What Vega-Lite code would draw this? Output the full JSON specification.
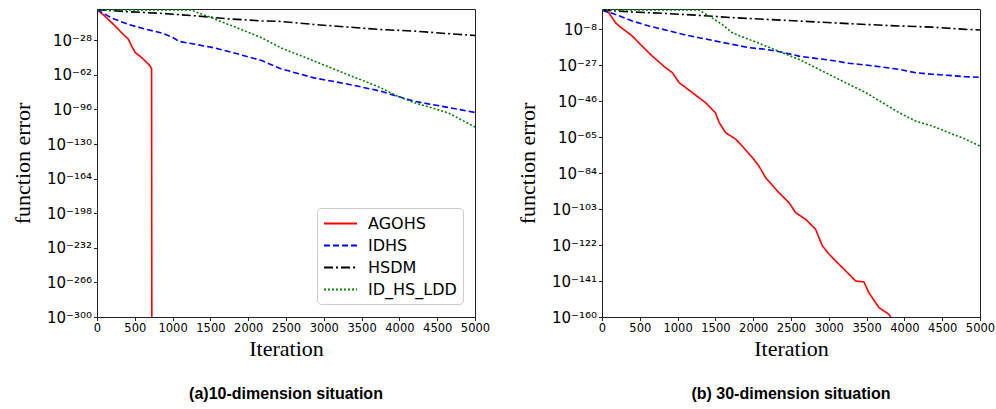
{
  "$schema": "https://vega.github.io/schema/vega-lite/v6.json",
  "background": "white",
  "padding": {"left": 10, "top": 8, "right": 10, "bottom": 5},
  "config": {
    "view": {"stroke": "#222", "strokeWidth": 1},
    "axis": {
      "labelFont": "DejaVu Sans", "labelColor": "#000", "domainColor": "#222", "domainWidth": 1,
      "tickColor": "#222", "tickSize": 3.5, "grid": false, "labelPadding": 2,
      "titleFont": "Liberation Serif", "titleFontWeight": "normal", "titleColor": "#000", "titleFontSize": 22
    },
    "title": {"font": "Liberation Sans", "fontWeight": "bold", "fontSize": 16, "color": "#000"}
  },
  "spacing": 24,
  "resolve": {
    "scale": {"y": "independent", "color": "independent", "strokeDash": "independent"},
    "legend": {"color": "independent", "strokeDash": "independent"}
  },
  "hconcat": [
    {
      "width": 378, "height": 308,
      "title": {"text": "(a)10-dimension situation", "orient": "bottom", "offset": 27},
      "data": {"values": [
        {"m": "AGOHS", "it": 0, "v": 1e2},
        {"m": "AGOHS", "it": 100, "v": 1e-4},
        {"m": "AGOHS", "it": 240, "v": 1e-14},
        {"m": "AGOHS", "it": 330, "v": 1e-21},
        {"m": "AGOHS", "it": 415, "v": 1e-27},
        {"m": "AGOHS", "it": 460, "v": 1e-34},
        {"m": "AGOHS", "it": 505, "v": 1e-40},
        {"m": "AGOHS", "it": 590, "v": 1e-45},
        {"m": "AGOHS", "it": 660, "v": 1e-50},
        {"m": "AGOHS", "it": 700, "v": 1e-53},
        {"m": "AGOHS", "it": 722, "v": 1e-56},
        {"m": "AGOHS", "it": 725, "v": 1e-300},
        {"m": "IDHS", "it": 0, "v": 1e2},
        {"m": "IDHS", "it": 190, "v": 1e-6},
        {"m": "IDHS", "it": 415, "v": 3e-13},
        {"m": "IDHS", "it": 640, "v": 1e-17},
        {"m": "IDHS", "it": 860, "v": 1e-21},
        {"m": "IDHS", "it": 1010, "v": 2.5e-26},
        {"m": "IDHS", "it": 1080, "v": 1e-29},
        {"m": "IDHS", "it": 1300, "v": 1e-32},
        {"m": "IDHS", "it": 1520, "v": 1e-35},
        {"m": "IDHS", "it": 1740, "v": 1e-39},
        {"m": "IDHS", "it": 1960, "v": 3e-44},
        {"m": "IDHS", "it": 2180, "v": 1e-48},
        {"m": "IDHS", "it": 2430, "v": 1e-56},
        {"m": "IDHS", "it": 2870, "v": 1e-65},
        {"m": "IDHS", "it": 3310, "v": 1e-71},
        {"m": "IDHS", "it": 3750, "v": 1e-78},
        {"m": "IDHS", "it": 3970, "v": 1e-83},
        {"m": "IDHS", "it": 4200, "v": 1e-88},
        {"m": "IDHS", "it": 4640, "v": 1e-94},
        {"m": "IDHS", "it": 5000, "v": 1e-99},
        {"m": "HSDM", "it": 0, "v": 1e2},
        {"m": "HSDM", "it": 415, "v": 1e0},
        {"m": "HSDM", "it": 860, "v": 2.5e-2},
        {"m": "HSDM", "it": 1300, "v": 1e-4},
        {"m": "HSDM", "it": 1740, "v": 1e-7},
        {"m": "HSDM", "it": 2180, "v": 1e-9},
        {"m": "HSDM", "it": 2430, "v": 3e-10},
        {"m": "HSDM", "it": 2870, "v": 3e-13},
        {"m": "HSDM", "it": 3310, "v": 1e-15},
        {"m": "HSDM", "it": 3750, "v": 3e-18},
        {"m": "HSDM", "it": 4200, "v": 1e-19},
        {"m": "HSDM", "it": 4640, "v": 3e-22},
        {"m": "HSDM", "it": 5000, "v": 5e-24},
        {"m": "ID_HS_LDD", "it": 0, "v": 5e1},
        {"m": "ID_HS_LDD", "it": 1250, "v": 5e1},
        {"m": "ID_HS_LDD", "it": 1300, "v": 1e0},
        {"m": "ID_HS_LDD", "it": 1520, "v": 1e-6},
        {"m": "ID_HS_LDD", "it": 1740, "v": 3e-13},
        {"m": "ID_HS_LDD", "it": 1960, "v": 1e-19},
        {"m": "ID_HS_LDD", "it": 2180, "v": 2.5e-26},
        {"m": "ID_HS_LDD", "it": 2430, "v": 4e-36},
        {"m": "ID_HS_LDD", "it": 2870, "v": 4e-49},
        {"m": "ID_HS_LDD", "it": 3310, "v": 3e-62},
        {"m": "ID_HS_LDD", "it": 3750, "v": 2.5e-75},
        {"m": "ID_HS_LDD", "it": 3970, "v": 1.6e-83},
        {"m": "ID_HS_LDD", "it": 4200, "v": 4e-90},
        {"m": "ID_HS_LDD", "it": 4640, "v": 6e-100},
        {"m": "ID_HS_LDD", "it": 5000, "v": 5e-114}
      ]},
      "mark": {"type": "line", "strokeWidth": 1.6, "clip": true},
      "encoding": {
        "x": {"field": "it", "type": "quantitative", "scale": {"domain": [0, 5000], "nice": false, "zero": false},
          "axis": {"values": [0, 500, 1000, 1500, 2000, 2500, 3000, 3500, 4000, 4500, 5000], "format": "d", "title": "Iteration", "labelFontSize": 11.5, "labelFlush": false, "titlePadding": 4}},
        "y": {"field": "v", "type": "quantitative", "scale": {"type": "log", "domain": [1e-300, 500], "nice": false},
          "axis": {"values": [1e-28, 1e-62, 1e-96, 1e-130, 1e-164, 1e-198, 1e-232, 1e-266, 1e-300],
            "labelExpr": "'10' + replace(replace(replace(replace(replace(replace(replace(replace(replace(replace(replace(toString(round(log(datum.value)/LN10)), '-', '⁻'), regexp('0','g'), '⁰'), regexp('1','g'), '¹'), regexp('2','g'), '²'), regexp('3','g'), '³'), regexp('4','g'), '⁴'), regexp('5','g'), '⁵'), regexp('6','g'), '⁶'), regexp('7','g'), '⁷'), regexp('8','g'), '⁸'), regexp('9','g'), '⁹')",
            "title": "function error", "labelFontSize": 15, "titlePadding": 12}},
        "color": {"field": "m", "type": "nominal",
          "scale": {"domain": ["AGOHS", "IDHS", "HSDM", "ID_HS_LDD"], "range": ["#ff0000", "#0000ff", "#000000", "#008000"]},
          "legend": {"orient": "none", "legendX": 220, "legendY": 199, "title": null, "symbolType": "M-2,0H2", "symbolSize": 272, "symbolOffset": 8, "symbolStrokeWidth": 1.8, "labelFontSize": 16, "labelFont": "DejaVu Sans", "labelColor": "#000", "fillColor": "#fff", "strokeColor": "#ccc", "cornerRadius": 4, "padding": 6, "rowPadding": 4, "labelOffset": 18}},
        "strokeDash": {"field": "m", "type": "nominal",
          "scale": {"domain": ["AGOHS", "IDHS", "HSDM", "ID_HS_LDD"], "range": [[1, 0], [6, 3], [9, 3, 2, 3], [2, 2]]},
          "legend": {"orient": "none", "legendX": 220, "legendY": 199, "title": null, "symbolType": "M-2,0H2", "symbolSize": 272, "symbolOffset": 8, "symbolStrokeWidth": 1.8, "labelFontSize": 16, "labelFont": "DejaVu Sans", "labelColor": "#000", "fillColor": "#fff", "strokeColor": "#ccc", "cornerRadius": 4, "padding": 6, "rowPadding": 4, "labelOffset": 18}}
      }
    },
    {
      "width": 378, "height": 308,
      "title": {"text": "(b) 30-dimension situation", "orient": "bottom", "offset": 27},
      "data": {"values": [
        {"m": "AGOHS", "it": 0, "v": 1e2},
        {"m": "AGOHS", "it": 90, "v": 4},
        {"m": "AGOHS", "it": 180, "v": 2e-5},
        {"m": "AGOHS", "it": 225, "v": 4e-7},
        {"m": "AGOHS", "it": 400, "v": 2e-12},
        {"m": "AGOHS", "it": 530, "v": 1e-17},
        {"m": "AGOHS", "it": 665, "v": 5e-23},
        {"m": "AGOHS", "it": 840, "v": 4e-29},
        {"m": "AGOHS", "it": 930, "v": 1e-31},
        {"m": "AGOHS", "it": 1020, "v": 5e-37},
        {"m": "AGOHS", "it": 1195, "v": 2.5e-42},
        {"m": "AGOHS", "it": 1370, "v": 1.3e-47},
        {"m": "AGOHS", "it": 1500, "v": 6.3e-53},
        {"m": "AGOHS", "it": 1550, "v": 4e-58},
        {"m": "AGOHS", "it": 1635, "v": 2e-63},
        {"m": "AGOHS", "it": 1770, "v": 6.3e-67},
        {"m": "AGOHS", "it": 1855, "v": 1.6e-70},
        {"m": "AGOHS", "it": 1990, "v": 1.3e-76},
        {"m": "AGOHS", "it": 2075, "v": 5e-81},
        {"m": "AGOHS", "it": 2165, "v": 3.2e-87},
        {"m": "AGOHS", "it": 2340, "v": 4e-95},
        {"m": "AGOHS", "it": 2475, "v": 2e-100},
        {"m": "AGOHS", "it": 2560, "v": 1.3e-105},
        {"m": "AGOHS", "it": 2695, "v": 3.2e-109},
        {"m": "AGOHS", "it": 2825, "v": 2e-114},
        {"m": "AGOHS", "it": 2915, "v": 3.2e-123},
        {"m": "AGOHS", "it": 3005, "v": 1.3e-127},
        {"m": "AGOHS", "it": 3090, "v": 4e-131},
        {"m": "AGOHS", "it": 3225, "v": 2e-136},
        {"m": "AGOHS", "it": 3355, "v": 1e-141},
        {"m": "AGOHS", "it": 3465, "v": 3.2e-142},
        {"m": "AGOHS", "it": 3530, "v": 6.3e-148},
        {"m": "AGOHS", "it": 3665, "v": 8e-156},
        {"m": "AGOHS", "it": 3795, "v": 2.5e-159},
        {"m": "AGOHS", "it": 3820, "v": 1e-160},
        {"m": "IDHS", "it": 0, "v": 1e2},
        {"m": "IDHS", "it": 180, "v": 5e-1},
        {"m": "IDHS", "it": 400, "v": 1.6e-4},
        {"m": "IDHS", "it": 620, "v": 4e-7},
        {"m": "IDHS", "it": 840, "v": 3e-9},
        {"m": "IDHS", "it": 1065, "v": 1.6e-11},
        {"m": "IDHS", "it": 1285, "v": 2.5e-13},
        {"m": "IDHS", "it": 1505, "v": 4e-15},
        {"m": "IDHS", "it": 1725, "v": 8e-17},
        {"m": "IDHS", "it": 1945, "v": 1.3e-18},
        {"m": "IDHS", "it": 2165, "v": 2e-19},
        {"m": "IDHS", "it": 2385, "v": 5e-21},
        {"m": "IDHS", "it": 2605, "v": 5e-23},
        {"m": "IDHS", "it": 2825, "v": 3.2e-24},
        {"m": "IDHS", "it": 3045, "v": 2.5e-25},
        {"m": "IDHS", "it": 3265, "v": 8e-27},
        {"m": "IDHS", "it": 3490, "v": 1e-27},
        {"m": "IDHS", "it": 3710, "v": 8e-29},
        {"m": "IDHS", "it": 3930, "v": 5e-30},
        {"m": "IDHS", "it": 4150, "v": 8e-32},
        {"m": "IDHS", "it": 4370, "v": 1.3e-32},
        {"m": "IDHS", "it": 4590, "v": 3.2e-33},
        {"m": "IDHS", "it": 4810, "v": 6.3e-34},
        {"m": "IDHS", "it": 5000, "v": 3.2e-34},
        {"m": "HSDM", "it": 0, "v": 1e2},
        {"m": "HSDM", "it": 400, "v": 1e1},
        {"m": "HSDM", "it": 840, "v": 1.6},
        {"m": "HSDM", "it": 1285, "v": 1.6e-1},
        {"m": "HSDM", "it": 1725, "v": 1e-2},
        {"m": "HSDM", "it": 2165, "v": 1.3e-3},
        {"m": "HSDM", "it": 2605, "v": 1.6e-4},
        {"m": "HSDM", "it": 3045, "v": 2e-5},
        {"m": "HSDM", "it": 3490, "v": 2.5e-6},
        {"m": "HSDM", "it": 3930, "v": 4e-7},
        {"m": "HSDM", "it": 4370, "v": 1e-7},
        {"m": "HSDM", "it": 4810, "v": 6.3e-9},
        {"m": "HSDM", "it": 5000, "v": 3.2e-9},
        {"m": "ID_HS_LDD", "it": 0, "v": 1e2},
        {"m": "ID_HS_LDD", "it": 1285, "v": 1e2},
        {"m": "ID_HS_LDD", "it": 1415, "v": 6.3e-2},
        {"m": "ID_HS_LDD", "it": 1590, "v": 2.5e-6},
        {"m": "ID_HS_LDD", "it": 1725, "v": 1e-10},
        {"m": "ID_HS_LDD", "it": 1945, "v": 3.2e-14},
        {"m": "ID_HS_LDD", "it": 2165, "v": 1e-17},
        {"m": "ID_HS_LDD", "it": 2385, "v": 3.2e-21},
        {"m": "ID_HS_LDD", "it": 2605, "v": 1e-24},
        {"m": "ID_HS_LDD", "it": 2825, "v": 4e-29},
        {"m": "ID_HS_LDD", "it": 3045, "v": 1.6e-33},
        {"m": "ID_HS_LDD", "it": 3265, "v": 6.3e-38},
        {"m": "ID_HS_LDD", "it": 3490, "v": 2.5e-42},
        {"m": "ID_HS_LDD", "it": 3710, "v": 1.3e-47},
        {"m": "ID_HS_LDD", "it": 3930, "v": 6.3e-53},
        {"m": "ID_HS_LDD", "it": 4150, "v": 2.5e-57},
        {"m": "ID_HS_LDD", "it": 4370, "v": 6.3e-60},
        {"m": "ID_HS_LDD", "it": 4590, "v": 2e-63},
        {"m": "ID_HS_LDD", "it": 4810, "v": 6.3e-67},
        {"m": "ID_HS_LDD", "it": 5000, "v": 1.6e-70}
      ]},
      "mark": {"type": "line", "strokeWidth": 1.6, "clip": true},
      "encoding": {
        "x": {"field": "it", "type": "quantitative", "scale": {"domain": [0, 5000], "nice": false, "zero": false},
          "axis": {"values": [0, 500, 1000, 1500, 2000, 2500, 3000, 3500, 4000, 4500, 5000], "format": "d", "title": "Iteration", "labelFontSize": 11.5, "labelFlush": false, "titlePadding": 4}},
        "y": {"field": "v", "type": "quantitative", "scale": {"type": "log", "domain": [1e-160, 360], "nice": false},
          "axis": {"values": [1e-8, 1e-27, 1e-46, 1e-65, 1e-84, 1e-103, 1e-122, 1e-141, 1e-160],
            "labelExpr": "'10' + replace(replace(replace(replace(replace(replace(replace(replace(replace(replace(replace(toString(round(log(datum.value)/LN10)), '-', '⁻'), regexp('0','g'), '⁰'), regexp('1','g'), '¹'), regexp('2','g'), '²'), regexp('3','g'), '³'), regexp('4','g'), '⁴'), regexp('5','g'), '⁵'), regexp('6','g'), '⁶'), regexp('7','g'), '⁷'), regexp('8','g'), '⁸'), regexp('9','g'), '⁹')",
            "title": "function error", "labelFontSize": 15, "titlePadding": 12}},
        "color": {"field": "m", "type": "nominal",
          "scale": {"domain": ["AGOHS", "IDHS", "HSDM", "ID_HS_LDD"], "range": ["#ff0000", "#0000ff", "#000000", "#008000"]},
          "legend": null},
        "strokeDash": {"field": "m", "type": "nominal",
          "scale": {"domain": ["AGOHS", "IDHS", "HSDM", "ID_HS_LDD"], "range": [[1, 0], [6, 3], [9, 3, 2, 3], [2, 2]]},
          "legend": null}
      }
    }
  ]
}
